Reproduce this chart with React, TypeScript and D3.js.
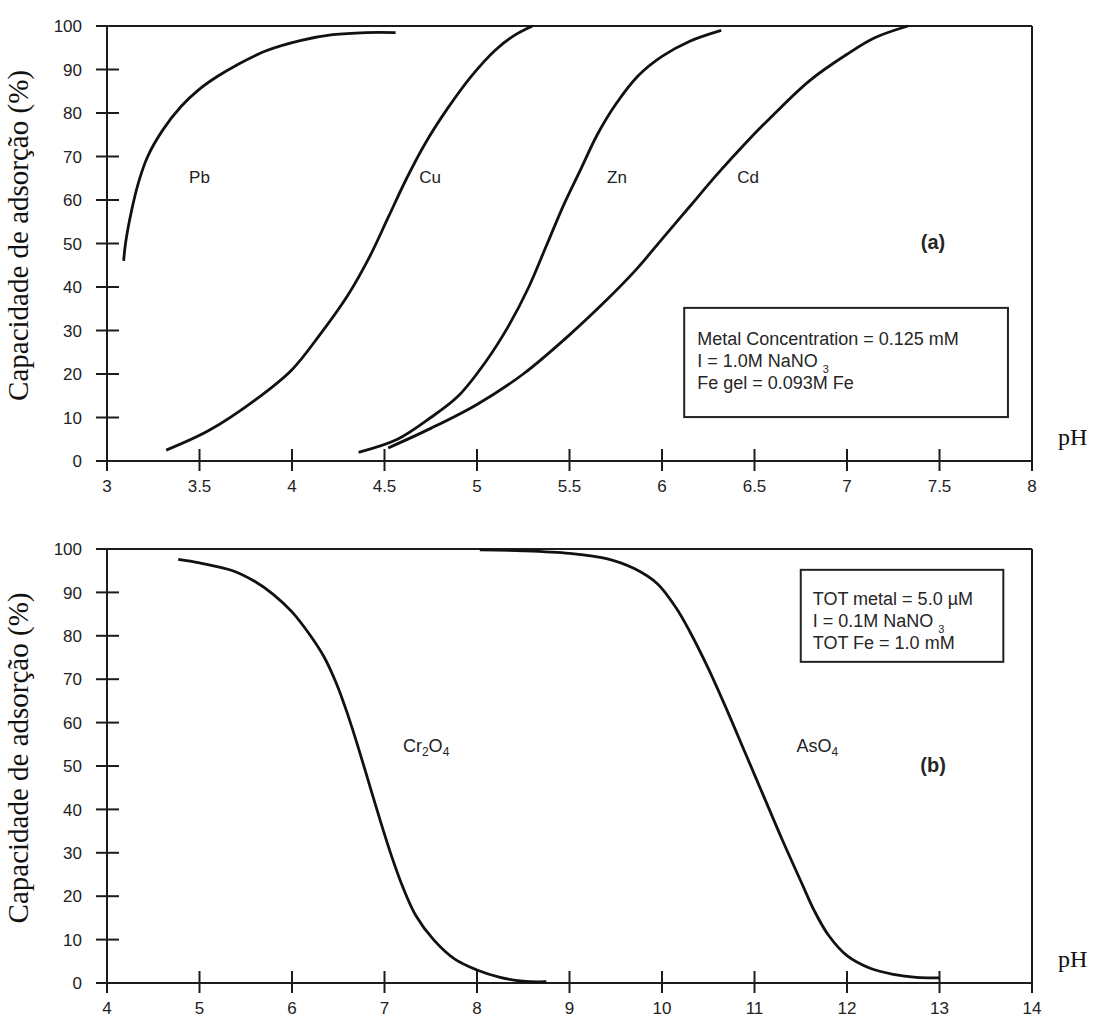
import React from "react";
import * as d3 from "d3";

// ---------- data (pH, adsorption %) ----------
const pbCurve: [number, number][] = [
  [3.09, 46], [3.1, 50], [3.13, 57], [3.17, 64], [3.22, 70], [3.3, 76], [3.4, 81.5],
  [3.5, 85.5], [3.6, 88.5], [3.7, 91], [3.86, 94.3], [4.05, 96.7], [4.22, 98],
  [4.4, 98.5], [4.56, 98.5],
];
const cuCurve: [number, number][] = [
  [3.32, 2.5], [3.55, 7], [3.8, 14], [4.0, 21], [4.15, 29], [4.3, 38], [4.42, 47],
  [4.52, 56], [4.62, 65], [4.72, 73], [4.84, 81], [4.97, 88.5], [5.1, 94.5],
  [5.2, 97.8], [5.3, 100],
];
const znCurve: [number, number][] = [
  [4.36, 2], [4.57, 5], [4.75, 10], [4.9, 15], [5.05, 23], [5.17, 31], [5.28, 40],
  [5.38, 50], [5.47, 59], [5.56, 67], [5.65, 75], [5.75, 82], [5.87, 88.5],
  [6.0, 93], [6.15, 96.5], [6.32, 99],
];
const cdCurve: [number, number][] = [
  [4.52, 3], [4.75, 7.5], [5.0, 13], [5.25, 20], [5.5, 29], [5.7, 37], [5.86, 44],
  [6.0, 51], [6.15, 58.5], [6.3, 66], [6.45, 73], [6.6, 79.5], [6.8, 87.5],
  [7.0, 93.5], [7.15, 97.3], [7.33, 100],
];
const cr2o4Curve: [number, number][] = [
  [4.77, 97.6], [5.0, 96.8], [5.36, 95], [5.6, 92.5], [5.8, 89.5], [6.0, 85.5],
  [6.2, 80], [6.35, 75], [6.48, 69], [6.6, 62], [6.72, 54], [6.84, 45.5], [6.96, 37],
  [7.08, 29], [7.2, 22], [7.34, 15.5], [7.53, 10], [7.76, 5.5], [8.0, 3], [8.25, 1.3],
  [8.5, 0.4], [8.75, 0.3],
];
const aso4Curve: [number, number][] = [
  [8.03, 99.8], [8.5, 99.6], [9.0, 99], [9.4, 97.8], [9.7, 95.5], [9.95, 92],
  [10.15, 86.5], [10.3, 81], [10.5, 72.5], [10.7, 63], [10.9, 53], [11.1, 43],
  [11.3, 33], [11.5, 23.5], [11.65, 16.5], [11.8, 11], [12.0, 6.3], [12.25, 3.4],
  [12.5, 2], [12.75, 1.3], [13.0, 1.2],
];

const yTicks = [0, 10, 20, 30, 40, 50, 60, 70, 80, 90, 100];
const xTicksTop = [3, 3.5, 4, 4.5, 5, 5.5, 6, 6.5, 7, 7.5, 8];
const xTicksBottom = [4, 5, 6, 7, 8, 9, 10, 11, 12, 13, 14];

const topLabels = [
  { text: "Pb", ph: 3.5, v: 63.9 },
  { text: "Cu", ph: 4.746, v: 63.9 },
  { text: "Zn", ph: 5.757, v: 63.9 },
  { text: "Cd", ph: 6.465, v: 63.9 },
];
const bottomLabels = [
  { base: "Cr", parts: [["Cr", false], ["2", true], ["O", false], ["4", true]], ph: 7.45, v: 53.3 },
  { base: "As", parts: [["AsO", false], ["4", true]], ph: 11.68, v: 53.3 },
];

const boxTopLines = ["Metal Concentration = 0.125 mM", "I = 1.0M NaNO|3", "Fe gel = 0.093M Fe"];
const boxBottomLines = ["TOT metal = 5.0 µM", "I = 0.1M NaNO|3", "TOT Fe = 1.0 mM"];

const FONT = "'Liberation Sans', Arial, sans-serif";
const SERIF = "'Liberation Serif', 'Times New Roman', serif";
const INK = "#1c1c1c";
const LABEL = "#222";

type PanelProps = {
  top: number;
  bottom: number;
  xDomain: [number, number];
  xTicks: number[];
  curves: [number, number][][];
  children?: (x: d3.ScaleLinear<number, number>, y: d3.ScaleLinear<number, number>) => React.ReactNode;
  box: { x0: number; x1: number; y0: number; y1: number; lines: string[]; padX: number; padY: number };
  tag: { text: string; ph: number; v: number };
};

function BoxText({ lines, x, y }: { lines: string[]; x: number; y: number }) {
  return (
    <text x={x} y={y} fontFamily={FONT} fontSize={18} fill="#262626">
      {lines.map((l, i) => {
        const [main, sub] = l.split("|");
        return (
          <tspan key={i} x={x} y={y + i * 22}>
            {main}
            {sub ? (
              <tspan dx={5} dy={6} fontSize={11}>
                {sub}
              </tspan>
            ) : null}
          </tspan>
        );
      })}
    </text>
  );
}

function Panel({ top, bottom, xDomain, xTicks, curves, children, box, tag }: PanelProps) {
  const x = d3.scaleLinear().domain(xDomain).range([107, 1032]);
  const y = d3.scaleLinear().domain([0, 100]).range([bottom, top]);
  const line = d3
    .line<[number, number]>()
    .x((d) => x(d[0]))
    .y((d) => y(d[1]))
    .curve(d3.curveCatmullRom.alpha(0.5));
  const x0 = x(xDomain[0]);
  const x1 = x(xDomain[1]);
  const y0 = y(0);
  const y100 = y(100);
  const bx0 = x(box.x0), bx1 = x(box.x1), by0 = y(box.y0), by1 = y(box.y1);
  return (
    <g>
      {/* frame */}
      <line x1={x0 - 10} x2={x1} y1={y100} y2={y100} stroke={INK} strokeWidth={2} />
      <line x1={x1} x2={x1} y1={y100} y2={y0} stroke={INK} strokeWidth={2} />
      <line x1={x0 - 10} x2={x1} y1={y0} y2={y0} stroke={INK} strokeWidth={2} />
      <line x1={x0} x2={x0} y1={y100} y2={y0 + 10} stroke={INK} strokeWidth={2} />
      {/* y ticks */}
      {yTicks.map((t) => (
        <g key={"y" + t}>
          <line x1={x0 - 11} x2={x0 + 12} y1={y(t)} y2={y(t)} stroke={INK} strokeWidth={2} />
          <text
            x={x0 - 25}
            y={y(t)}
            dy="0.36em"
            textAnchor="end"
            fontFamily={FONT}
            fontSize={17}
            fill={LABEL}
          >
            {t}
          </text>
        </g>
      ))}
      {/* x ticks */}
      {xTicks.map((t) => (
        <g key={"x" + t}>
          <line x1={x(t)} x2={x(t)} y1={y0 - 12} y2={y0 + 10} stroke={INK} strokeWidth={2} />
          <text
            x={x(t)}
            y={y0 + 31}
            textAnchor="middle"
            fontFamily={FONT}
            fontSize={17}
            fill={LABEL}
          >
            {String(t)}
          </text>
        </g>
      ))}
      {/* curves */}
      {curves.map((c, i) => (
        <path key={i} d={line(c) || ""} fill="none" stroke="#111" strokeWidth={2.8} strokeLinecap="butt" />
      ))}
      {/* legend box */}
      <rect x={bx0} y={by0} width={bx1 - bx0} height={by1 - by0} fill="none" stroke="#222" strokeWidth={2} />
      <BoxText lines={box.lines} x={bx0 + box.padX} y={by0 + box.padY} />
      {/* panel tag */}
      <text
        x={x(tag.ph)}
        y={y(tag.v)}
        textAnchor="middle"
        fontFamily={FONT}
        fontWeight="bold"
        fontSize={20}
        fill="#262626"
      >
        {tag.text}
      </text>
      {/* pH */}
      <text x={1058} y={y0 - 16} fontFamily={SERIF} fontSize={24} fill="#111">
        pH
      </text>
      {/* y title */}
      <text
        transform={`translate(28,${(top + bottom) / 2 - 8}) rotate(-90)`}
        textAnchor="middle"
        fontFamily={SERIF}
        fontSize={29}
        fill="#111"
      >
        Capacidade de adsorção (%)
      </text>
      {children ? children(x, y) : null}
    </g>
  );
}

export default function App() {
  return (
    <svg
      width={1094}
      height={1017}
      viewBox="0 0 1094 1017"
      style={{ position: "absolute", left: 0, top: 0, background: "#fff" }}
    >
      <rect x={0} y={0} width={1094} height={1017} fill="#fff" />
      <Panel
        top={26}
        bottom={461}
        xDomain={[3, 8]}
        xTicks={xTicksTop}
        curves={[pbCurve, cuCurve, znCurve, cdCurve]}
        box={{ x0: 6.12, x1: 7.87, y0: 35.2, y1: 10.1, lines: boxTopLines, padX: 13, padY: 37 }}
        tag={{ text: "(a)", ph: 7.465, v: 48.7 }}
      >
        {(x, y) =>
          topLabels.map((l) => (
            <text
              key={l.text}
              x={x(l.ph)}
              y={y(l.v)}
              textAnchor="middle"
              fontFamily={FONT}
              fontSize={17}
              fill={LABEL}
            >
              {l.text}
            </text>
          ))
        }
      </Panel>
      <Panel
        top={549}
        bottom={983}
        xDomain={[4, 14]}
        xTicks={xTicksBottom}
        curves={[cr2o4Curve, aso4Curve]}
        box={{ x0: 11.5, x1: 13.69, y0: 95.2, y1: 74, lines: boxBottomLines, padX: 12, padY: 35 }}
        tag={{ text: "(b)", ph: 12.93, v: 48.7 }}
      >
        {(x, y) =>
          bottomLabels.map((l) => (
            <text
              key={l.base}
              x={x(l.ph)}
              y={y(l.v)}
              textAnchor="middle"
              fontFamily={FONT}
              fontSize={18}
              fill={LABEL}
            >
              {l.parts.map(([s, sub], i) =>
                sub ? (
                  <tspan key={i} fontSize={12} dy={4}>
                    {s as string}
                  </tspan>
                ) : (
                  <tspan key={i} dy={i > 0 ? -4 : 0}>
                    {s as string}
                  </tspan>
                )
              )}
            </text>
          ))
        }
      </Panel>
    </svg>
  );
}
